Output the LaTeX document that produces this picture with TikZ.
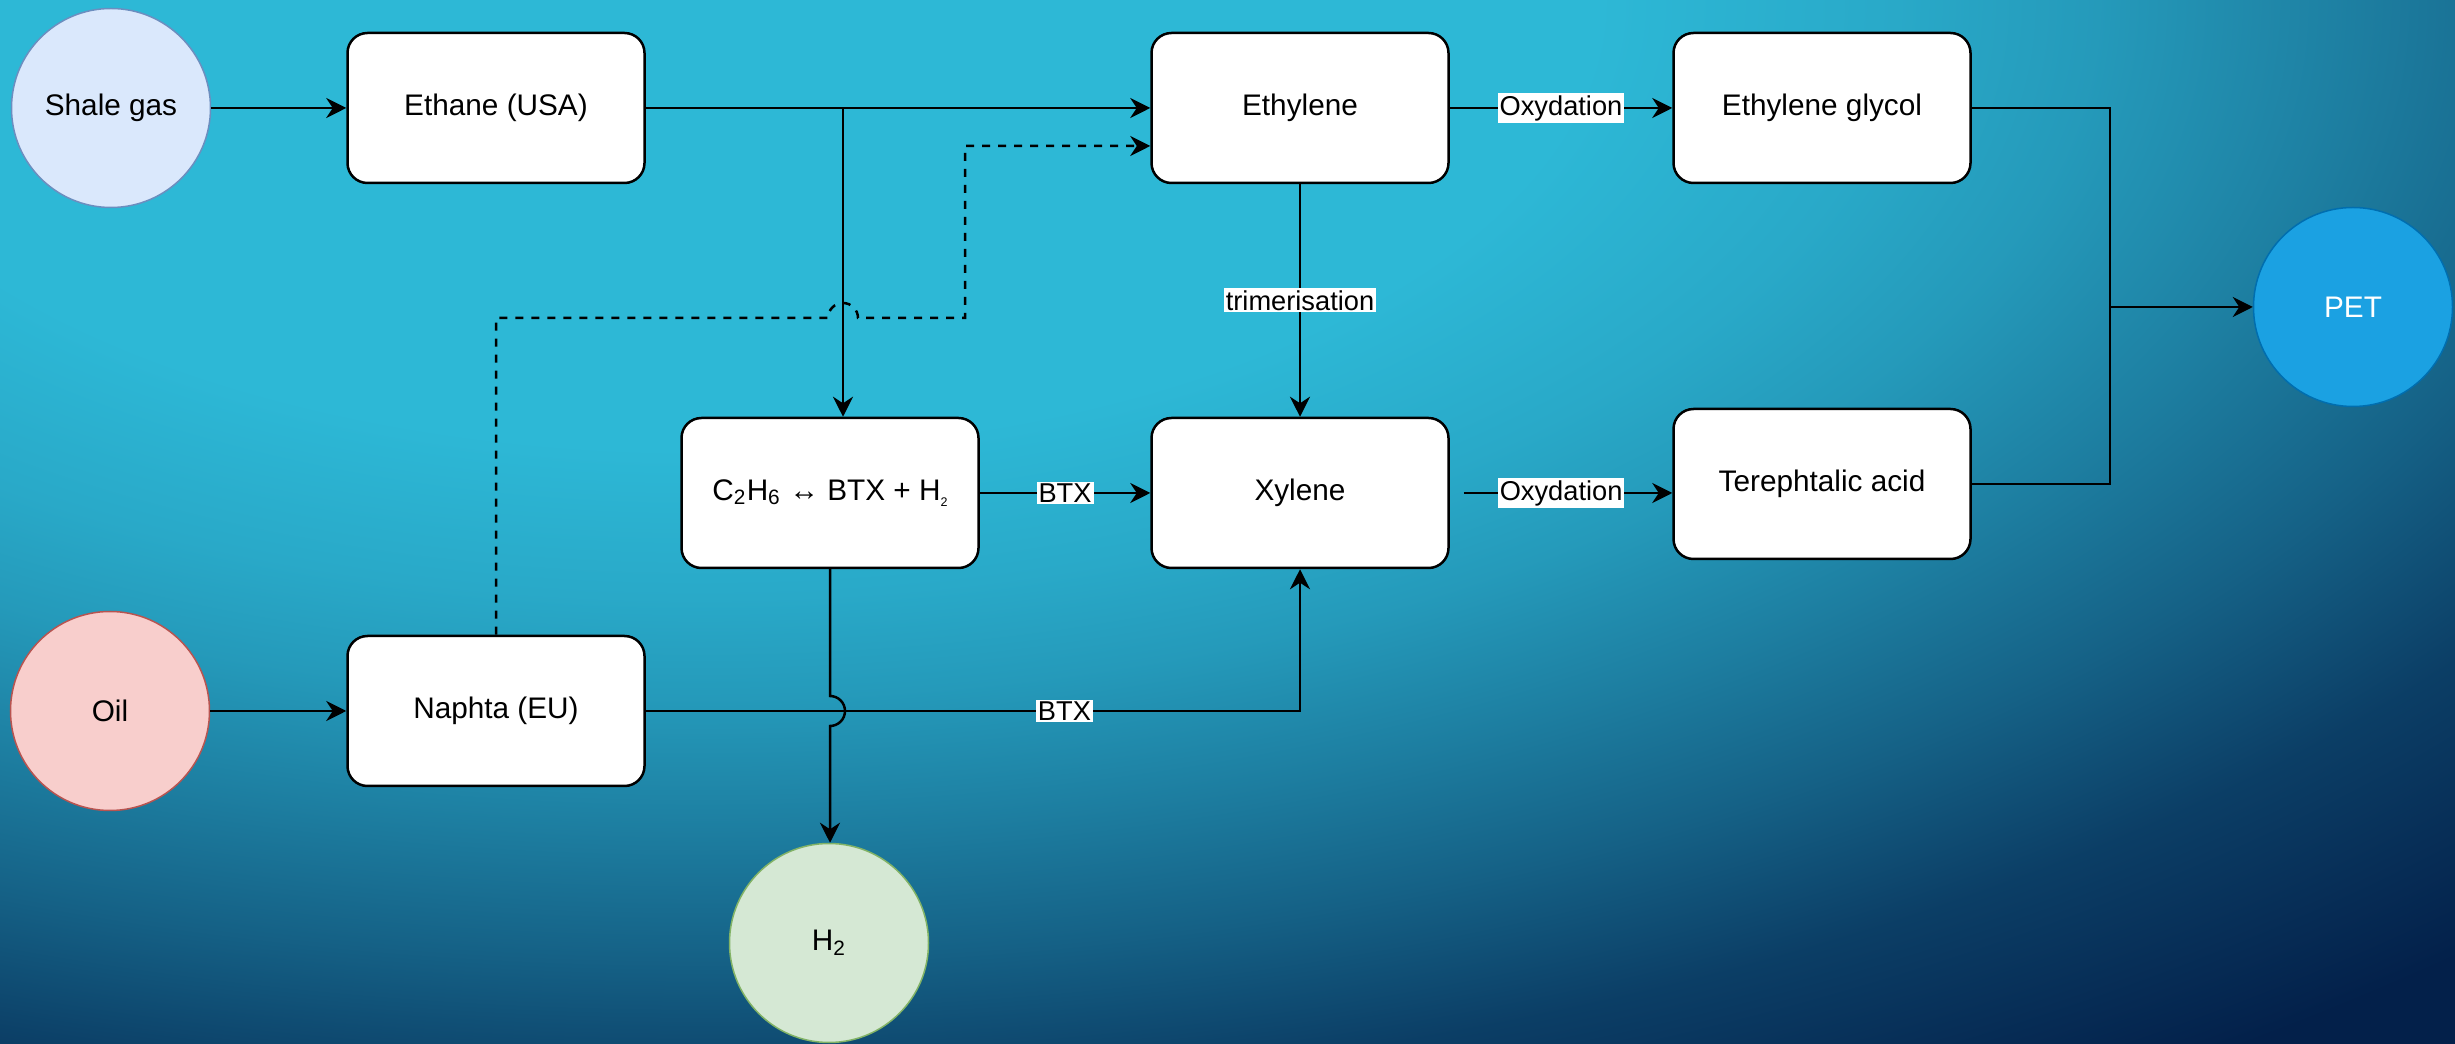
\documentclass[tikz,border=0pt]{standalone}
\usepackage{fontspec}
\setmainfont{Liberation Sans}
\usetikzlibrary{arrows.meta,calc}

\definecolor{bgA}{HTML}{2DB8D6}
\definecolor{bgD}{HTML}{03204A}
\definecolor{shalefill}{HTML}{DAE8FC}
\definecolor{shaleline}{HTML}{6C8EBF}
\definecolor{oilfill}{HTML}{F8CECC}
\definecolor{oilline}{HTML}{B85450}
\definecolor{hfill}{HTML}{D5E8D4}
\definecolor{hline}{HTML}{82B366}
\definecolor{petfill}{HTML}{1BA1E2}
\definecolor{petline}{HTML}{006EAF}

\pgfdeclareradialshading{bgshade}{\pgfpoint{0bp}{0bp}}{color(0bp)=(bgA); color(8bp)=(bgA);
    color(10.7bp)=(bgA!90!bgD); color(12.5bp)=(bgA!80!bgD); color(14.8bp)=(bgA!62!bgD);
    color(17.1bp)=(bgA!43!bgD); color(19.6bp)=(bgA!20!bgD); color(23.2bp)=(bgD); color(50bp)=(bgD)}

\newcommand\boxfont{\fontsize{11.9pt}{14pt}\selectfont}
\newcommand\lblfont{\fontsize{10.9pt}{13pt}\selectfont}

\begin{document}
\begin{tikzpicture}[x=0.4pt,y=-0.4pt,
    box/.style={draw=black, line width=1pt, fill=white, rounded corners=8pt,
        minimum width=118.8pt, minimum height=60pt, inner sep=0pt, font=\boxfont},
    src/.style={circle, line width=0.6pt, minimum size=79.6pt, inner sep=0pt, font=\boxfont},
    flow/.style={draw=black, line width=1pt, -{Stealth[length=8pt,width=8pt,inset=2.6pt]}},
    dflow/.style={flow, dash pattern=on 3.2pt off 3.2pt},
    lbl/.style={fill=white, inner sep=0.8pt, font=\lblfont}]

    %background
        \useasboundingbox (0,0) rectangle (2455,1044);
        \begin{scope}
            \clip (0,0) rectangle (2455,1044);
            \shade[shading=bgshade] (-2100,-1400) rectangle (3500,1400);
        \end{scope}

    %sources and products
        \node[src, draw=shaleline, fill=shalefill] (shale) at (111,108) {Shale gas};
        \node[src, draw=oilline, fill=oilfill] (oil) at (110,711) {Oil};
        \node[src, draw=hline, fill=hfill] (h2) at (829,943) {H\textsubscript{2}};
        \node[src, draw=petline, fill=petfill, text=white] (pet) at (2353,307) {PET};

    %process boxes
        \node[box] (ethane) at (496,108) {Ethane (USA)};
        \node[box] (naphta) at (496,711) {Naphta (EU)};
        \node[box] (ethylene) at (1300,108) {Ethylene};
        \node[box] (eglycol) at (1822,108) {Ethylene glycol};
        \node[box] (c2h6) at (830,493) {C\textsubscript{2}H\textsubscript{6} ↔ BTX + H\raisebox{-0.4ex}{\fontsize{5pt}{5pt}\selectfont 2}};
        \node[box] (xylene) at (1300,493) {Xylene};
        \node[box] (tere) at (1822,484) {Terephtalic acid};

    %helper points
        \coordinate (split) at ($(c2h6.north)+(13,0)$);
        \coordinate (hopA) at (split |- 0,318);
        \coordinate (hopB) at (c2h6.south |- naphta.east);
        \coordinate (merge) at (2110,307);

    %connectors
        \draw[flow] (shale) -- (ethane);
        \draw[flow] (oil) -- (naphta);
        \draw[flow] (ethane) -- (ethylene);
        \draw[flow] (ethane.east -| split) -- (split);
        \draw[dflow] (naphta.north) |- ($(hopA)+(-15,0)$) arc (180:360:15) -- ++(107,0)
            |- ($(ethylene.west)+(0,38)$);
        \draw[flow] (ethylene) -- node[lbl]{Oxydation} (eglycol);
        \draw[flow] (ethylene) -- node[lbl]{trimerisation} (xylene);
        \draw[flow] (c2h6) -- node[lbl]{BTX} (xylene);
        \draw[flow] ($(xylene.east)+(14,0)$) -- node[lbl,pos=0.467]{Oxydation} (tere.west |- xylene.east);
        \draw[flow] (naphta.east) -| node[lbl,pos=0.32]{BTX} (xylene.south);
        \draw[flow] (c2h6.south) -- ($(hopB)+(0,-15)$) arc (-90:90:15) -- (h2.north -| hopB);
        \draw[line width=1pt] (eglycol.east) -| (merge);
        \draw[line width=1pt] (tere.east) -| (merge);
        \draw[flow] (merge) -- (pet);

\end{tikzpicture}
\end{document}
